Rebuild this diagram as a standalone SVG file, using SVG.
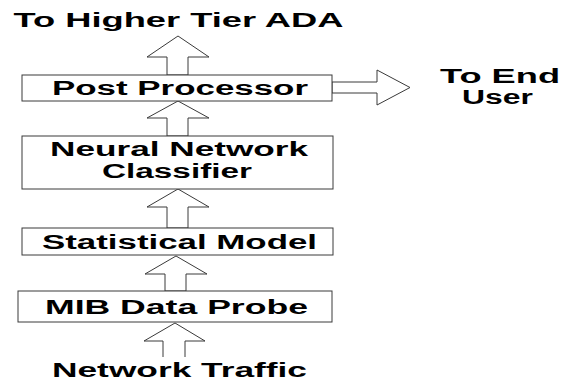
<svg xmlns="http://www.w3.org/2000/svg" width="562" height="381" viewBox="0 0 562 381">
  <style>
    .box { fill: #fff; stroke: #3a3a3a; stroke-width: 1; }
    .arrow { fill: #fff; stroke: #3a3a3a; stroke-width: 1; stroke-linejoin: miter; }
    .label { font-family: "Liberation Sans", Arial, sans-serif; font-weight: bold; font-size: 20px; fill: #000; }
  </style>
  <rect width="562" height="381" fill="#fff"/>

  <!-- block arrows between stages -->
  <g id="connectors">
    <polygon class="arrow" points="167,75 167,57 147,57 178,36 209,57 188,57 188,75"/>
    <polygon class="arrow" points="167,136 167,118 147,118 178,101 209,118 188,118 188,136"/>
    <polygon class="arrow" points="167,228 167,207 147,207 178,189 209,207 188,207 188,228"/>
    <polygon class="arrow" points="165,291 165,274 145,274 176,256 207,274 186,274 186,291"/>
    <polyline class="arrow" points="163,357 163,341 144,341 175,323 205,341 185,341 185,357"/>
    <polygon class="arrow" points="332,82 377,82 377,70 410,87.5 377,105 377,93 332,93"/>
  </g>

  <text class="label" x="13.5" y="27" textLength="330" lengthAdjust="spacingAndGlyphs">To Higher Tier ADA</text>

  <g id="post-processor">
    <rect class="box" x="22" y="75" width="310" height="26"/>
    <text class="label" x="52" y="95" textLength="256" lengthAdjust="spacingAndGlyphs">Post Processor</text>
  </g>

  <text class="label" x="440" y="83" textLength="120" lengthAdjust="spacingAndGlyphs">To End</text>
  <text class="label" x="462" y="104" textLength="71" lengthAdjust="spacingAndGlyphs">User</text>

  <g id="neural-network-classifier">
    <rect class="box" x="22" y="136" width="311" height="53"/>
    <text class="label" x="50" y="156" textLength="258" lengthAdjust="spacingAndGlyphs">Neural Network</text>
    <text class="label" x="102" y="178" textLength="150" lengthAdjust="spacingAndGlyphs">Classifier</text>
  </g>

  <g id="statistical-model">
    <rect class="box" x="22" y="228" width="311" height="27"/>
    <text class="label" x="42" y="249" textLength="275" lengthAdjust="spacingAndGlyphs">Statistical Model</text>
  </g>

  <g id="mib-data-probe">
    <rect class="box" x="18" y="291" width="314" height="31"/>
    <text class="label" x="45" y="314" textLength="263" lengthAdjust="spacingAndGlyphs">MIB Data Probe</text>
  </g>

  <text class="label" x="52" y="377" textLength="255" lengthAdjust="spacingAndGlyphs">Network Traffic</text>
</svg>
